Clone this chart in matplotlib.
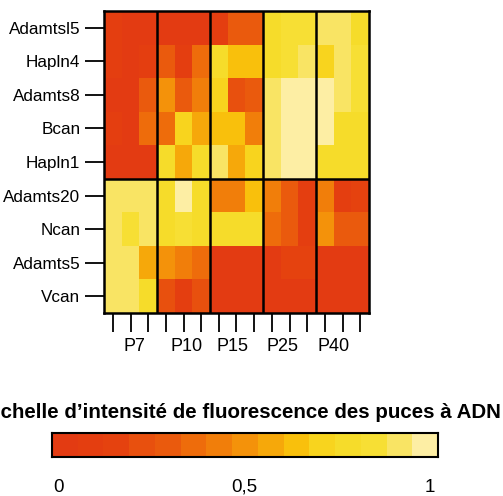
import numpy as np
import matplotlib
matplotlib.use("Agg")
import matplotlib.pyplot as plt
from matplotlib.colors import ListedColormap, BoundaryNorm

plt.rcParams['font.family'] = ['Liberation Sans', 'DejaVu Sans']

genes = ["Adamtsl5", "Hapln4", "Adamts8", "Bcan", "Hapln1",
         "Adamts20", "Ncan", "Adamts5", "Vcan"]
groups = ["P7", "P10", "P15", "P25", "P40"]
reps_per_group = 3

# discrete intensity levels (0..14) -> scale 0..1
adamtsl5 = [1, 0, 0,  0, 0, 0,  1, 4, 4,  11, 12, 12,  13, 13, 11]
hapln4   = [1, 0, 1,  4, 1, 5,  11, 9, 9,  11, 12, 13,  10, 13, 12]
adamts8  = [0, 0, 4,  7, 4, 6,  10, 3, 4,  13, 14, 14,  14, 13, 12]
bcan     = [1, 0, 5,  5, 10, 8,  9, 9, 6,  13, 14, 14,  14, 11, 11]
hapln1   = [0, 0, 0,  11, 8, 11,  13, 8, 10,  13, 14, 14,  11, 11, 11]
adamts20 = [13, 13, 13,  11, 14, 11,  6, 6, 9,  6, 4, 1,  6, 1, 2]
ncan     = [13, 12, 13,  11, 12, 11,  11, 11, 11,  5, 4, 1,  7, 4, 4]
adamts5  = [13, 13, 8,  7, 6, 5,  0, 0, 0,  0, 2, 2,  0, 0, 0]
vcan     = [13, 13, 11,  3, 1, 3,  0, 0, 0,  0, 0, 0,  0, 0, 0]

cbar_ticks = [0, 0.5, 1]
cbar_ticklabels = ["0", "0,5", "1"]
title = "Échelle d\u2019intensité de fluorescence des puces à ADN"

palette = ['#e33b12', '#e43e10', '#e5420f', '#e8500e', '#ea5a0d', '#ee6c0b',
           '#f17e0a', '#f4920a', '#f6a80a', '#f9c00c', '#f8d41e', '#f6dc2a',
           '#f7df34', '#f9e464', '#fdeea4']
nlev = len(palette)
cmap = ListedColormap(palette)

data = np.array([adamtsl5, hapln4, adamts8, bcan, hapln1,
                 adamts20, ncan, adamts5, vcan], dtype=float) / (nlev - 1)
norm = BoundaryNorm(np.linspace(-0.5 / (nlev - 1), 1 + 0.5 / (nlev - 1), nlev + 1), nlev)

W, H = 503, 496
fig = plt.figure(figsize=(W / 100, H / 100), dpi=100)

# heatmap
ax = fig.add_axes([104 / W, 1 - 313 / H, 265 / W, 302 / H])
nrows, ncols = data.shape
ax.pcolormesh(np.arange(ncols + 1), np.arange(nrows + 1), data, cmap=cmap, norm=norm)
ax.set_xlim(0, ncols)
ax.set_ylim(nrows, 0)
for g in range(1, len(groups)):
    ax.axvline(g * reps_per_group, color='black', lw=1.8)
ax.axhline(5, color='black', lw=1.8)
for s in ax.spines.values():
    s.set_linewidth(1.8)
ax.set_yticks(np.arange(nrows) + 0.5)
ax.set_yticklabels(genes, fontsize=12.3)
ax.set_xticks(np.arange(ncols) + 0.5)
ax.set_xticklabels([])
ax.tick_params(axis='y', length=14, width=1.3, pad=3)
ax.tick_params(axis='x', length=14, width=1.3)
label_x = [1.75, 4.7, 7.25, 10.1, 13.0]
for lx, g in zip(label_x, groups):
    ax.text(lx, nrows + 1.0, g, ha='center', va='center', fontsize=13, clip_on=False)

# title
fig.text(244 / W, 1 - 411 / H, title, ha='center', va='center',
         fontsize=14.8, fontweight='bold')

# colorbar
cax = fig.add_axes([52 / W, 1 - 457 / H, 386 / W, 24 / H])
x0 = -7 / 371
x1 = 1 + 8 / 371
edges = np.linspace(x0, x1, nlev + 1)
levels = np.linspace(0, 1, nlev)
cax.pcolormesh(edges, [0, 1], levels[np.newaxis, :], cmap=cmap, norm=norm)
cax.set_xlim(x0, x1)
cax.set_ylim(0, 1)
cax.set_yticks([])
cax.set_xticks([])
for s in cax.spines.values():
    s.set_linewidth(1.5)
for t, lab in zip(cbar_ticks, cbar_ticklabels):
    cax.text(t, -1.25, lab, ha='center', va='center', fontsize=13.5, clip_on=False)

fig.savefig("out.png", dpi=100)
